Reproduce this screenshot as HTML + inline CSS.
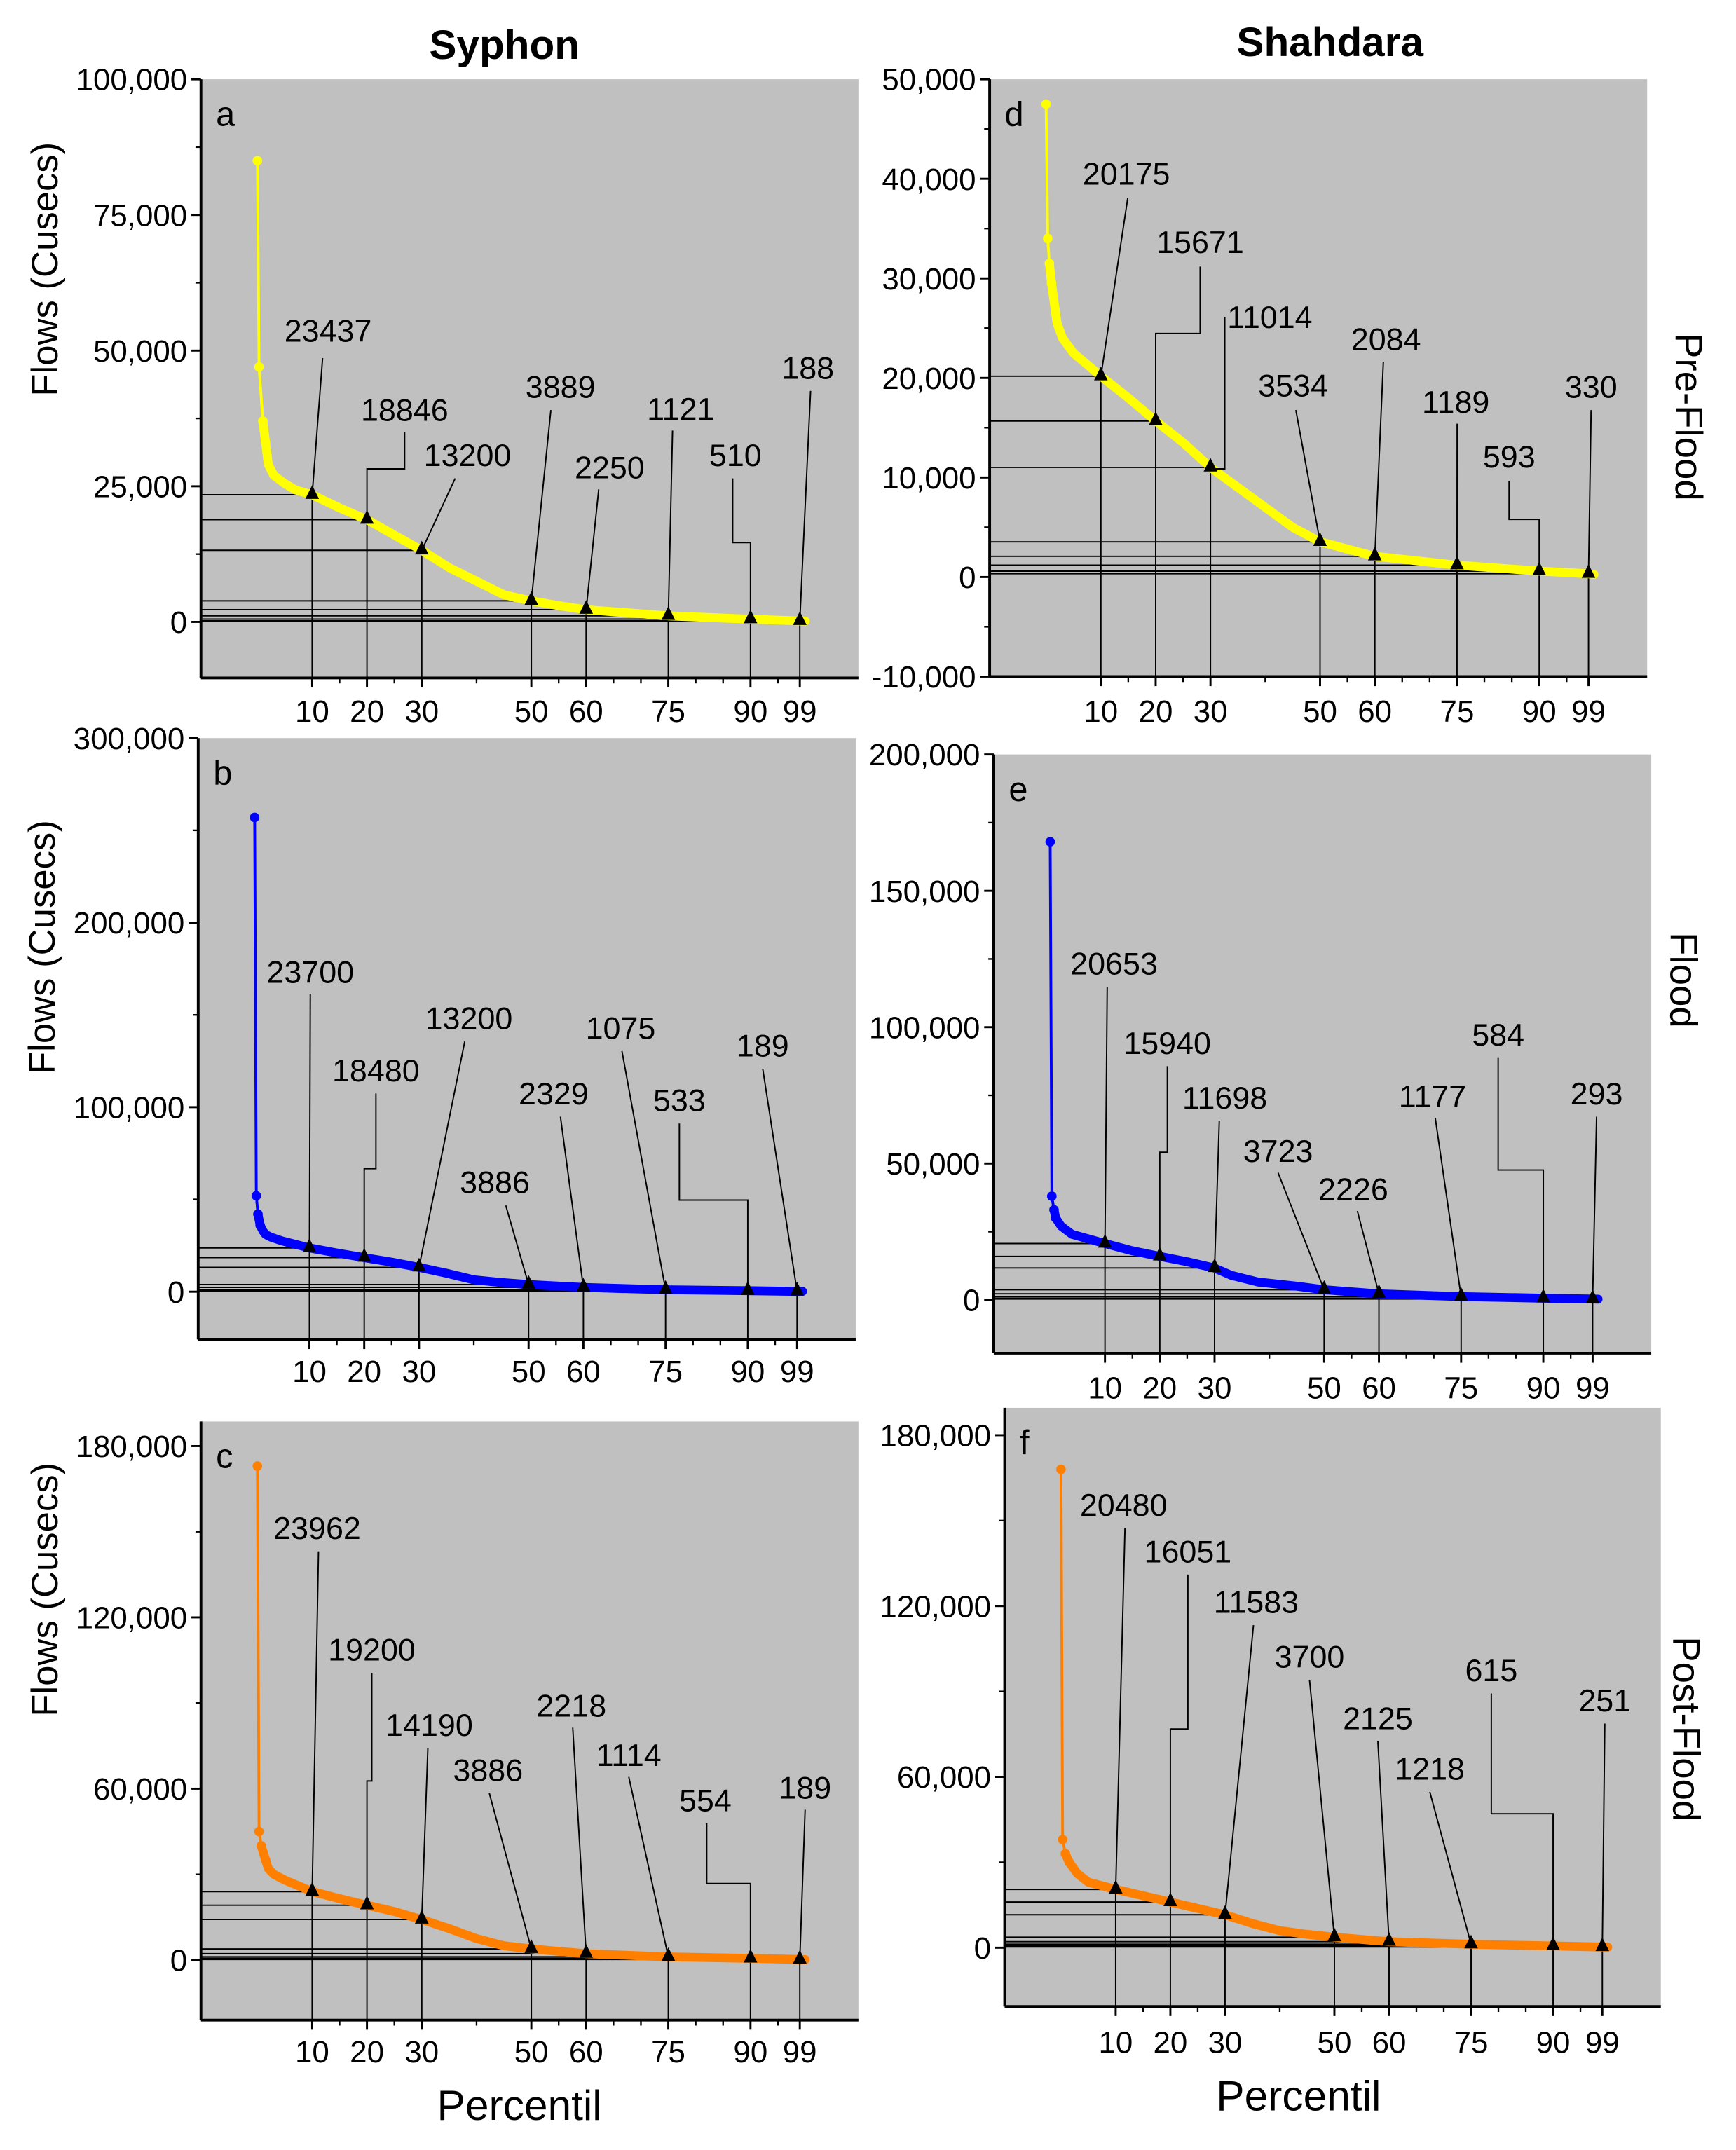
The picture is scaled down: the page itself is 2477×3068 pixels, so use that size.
<!DOCTYPE html>
<html><head><meta charset="utf-8"><style>
html,body{margin:0;padding:0;background:#fff;}
svg{display:block;font-family:"Liberation Sans",Arial,sans-serif;}
</style></head><body>
<svg id="fig" width="2477" height="3068" viewBox="0 0 1270 1573" preserveAspectRatio="none" xmlns="http://www.w3.org/2000/svg">
<rect x="0" y="0" width="1270" height="1573" fill="#fff"/>
<text x="369" y="43" font-size="30" font-weight="bold" text-anchor="middle">Syphon</text>
<text x="973" y="41" font-size="30" font-weight="bold" text-anchor="middle">Shahdara</text>
<text transform="translate(1226,305) rotate(90)" font-size="28" text-anchor="middle">Pre-Flood</text>
<text transform="translate(1222,717) rotate(90)" font-size="28" text-anchor="middle">Flood</text>
<text transform="translate(1224,1265) rotate(90)" font-size="28" text-anchor="middle">Post-Flood</text>
<text transform="translate(42,197) rotate(-90)" font-size="27" text-anchor="middle">Flows (Cusecs)</text>
<text transform="translate(40,693) rotate(-90)" font-size="27" text-anchor="middle">Flows (Cusecs)</text>
<text transform="translate(42,1163) rotate(-90)" font-size="27" text-anchor="middle">Flows (Cusecs)</text>
<text x="380" y="1551" font-size="31" text-anchor="middle">Percentil</text>
<text x="950" y="1544" font-size="31" text-anchor="middle">Percentil</text>
</svg>
<script>
// ---- data ----
const markerPct = [10, 20, 30, 50, 60, 75, 90, 99];
const xTickLabels = ["10", "20", "30", "50", "60", "75", "90", "99"];
const xMinorTicks = [15, 25, 40, 55, 65, 70, 80, 85, 95];

const curvePctA = [0, 0.3, 1, 1.5, 2, 3, 5, 7, 10, 15, 20, 25, 30, 35, 40, 45, 50, 55, 60, 75, 90, 99, 100];
const curveValA = [85000, 47000, 37000, 33000, 29000, 27000, 25500, 24300, 23437, 21000, 18846, 16000, 13200, 10000, 7500, 5000, 3889, 3000, 2250, 1121, 510, 188, 150];
const markValA = [23437, 18846, 13200, 3889, 2250, 1121, 510, 188];

const curvePctB = [0, 0.3, 0.6, 1, 1.5, 2, 3, 5, 10, 15, 20, 25, 30, 35, 40, 45, 50, 60, 75, 90, 99, 100];
const curveValB = [257000, 52000, 42000, 36000, 33000, 31000, 29500, 27500, 23700, 21000, 18480, 16000, 13200, 10000, 6500, 5000, 3886, 2329, 1075, 533, 189, 150];
const markValB = [23700, 18480, 13200, 3886, 2329, 1075, 533, 189];

const curvePctC = [0, 0.3, 0.7, 1.5, 2, 3, 5, 10, 15, 20, 25, 30, 35, 40, 45, 50, 60, 75, 90, 99, 100];
const curveValC = [173000, 45000, 40000, 35000, 32000, 30000, 28000, 23962, 21500, 19200, 17000, 14190, 11000, 7500, 5000, 3886, 2218, 1114, 554, 189, 150];
const markValC = [23962, 19200, 14190, 3886, 2218, 1114, 554, 189];

const curvePctD = [0, 0.3, 0.6, 1, 1.5, 2, 3, 5, 10, 15, 20, 25, 30, 35, 40, 45, 50, 60, 75, 90, 99, 100];
const curveValD = [47500, 34000, 31500, 29500, 27500, 25500, 24000, 22500, 20175, 18000, 15671, 13500, 11014, 9000, 7000, 5000, 3534, 2084, 1189, 593, 330, 250];
const markValD = [20175, 15671, 11014, 3534, 2084, 1189, 593, 330];

const curvePctE = [0, 0.3, 0.7, 1, 2, 4, 10, 15, 20, 25, 30, 33, 38, 45, 50, 60, 75, 90, 99, 100];
const curveValE = [168000, 38000, 33000, 30000, 27000, 24000, 20653, 18000, 15940, 14000, 11698, 9000, 6500, 5000, 3723, 2226, 1177, 584, 293, 250];
const markValE = [20653, 15940, 11698, 3723, 2226, 1177, 584, 293];

const curvePctF = [0, 0.3, 0.8, 1.5, 3, 5, 10, 20, 30, 35, 40, 45, 50, 60, 75, 90, 99, 100];
const curveValF = [168000, 38000, 33000, 30000, 26000, 23000, 20480, 16051, 11583, 8500, 6000, 4700, 3700, 2125, 1218, 615, 251, 200];
const markValF = [20480, 16051, 11583, 3700, 2125, 1218, 615, 251];

const yTicksA = [0, 25000, 50000, 75000, 100000];
const yTickLabelsA = ["0", "25,000", "50,000", "75,000", "100,000"];
const yTicksB = [0, 100000, 200000, 300000];
const yTickLabelsB = ["0", "100,000", "200,000", "300,000"];
const yTicksC = [0, 60000, 120000, 180000];
const yTickLabelsC = ["0", "60,000", "120,000", "180,000"];
const yTicksD = [-10000, 0, 10000, 20000, 30000, 40000, 50000];
const yTickLabelsD = ["-10,000", "0", "10,000", "20,000", "30,000", "40,000", "50,000"];
const yTicksE = [0, 50000, 100000, 150000, 200000];
const yTickLabelsE = ["0", "50,000", "100,000", "150,000", "200,000"];
const yTicksF = [0, 60000, 120000, 180000];
const yTickLabelsF = ["0", "60,000", "120,000", "180,000"];

// ---- layout (pixel positions for annotation labels; not data) ----
const layouts = [
 {id:'a', x0:147,x1:628,y0:58,y1:496,ymin:-10325,ymax:100000,color:'#ffff00',xlabY:528,
  P:curvePctA,V:curveValA,M:markValA,T:yTicksA,TL:yTickLabelsA,
  lab:[[240,250,236,262,null],[296,308,296,316,343],[342,341,333,350,null],[410,291,403,300,null],[446,350,438,358,null],[498,307,492,315,null],[538,341,536,350,397],[591,277,593,286,null]]},
 {id:'b', x0:145,x1:626,y0:540,y1:980,ymin:-25900,ymax:300000,color:'#0000ff',xlabY:1011,
  P:curvePctB,V:curveValB,M:markValB,T:yTicksB,TL:yTickLabelsB,
  lab:[[227,719,227,727,null],[275,791,275,800,855],[343,753,340,762,null],[362,873,370,882,null],[405,808,410,817,null],[454,760,455,769,null],[497,813,497,822,878],[558,773,558,782,null]]},
 {id:'c', x0:147,x1:628,y0:1040,y1:1478,ymin:-21060,ymax:188600,color:'#ff8000',xlabY:1509,
  P:curvePctC,V:curveValC,M:markValC,T:yTicksC,TL:yTickLabelsC,
  lab:[[232,1126,233,1135,null],[272,1215,272,1224,1303],[314,1270,313,1279,null],[357,1303,358,1312,null],[418,1256,419,1264,null],[460,1292,460,1300,null],[516,1325,517,1334,1378],[589,1316,589,1324,null]]},
 {id:'d', x0:724,x1:1205,y0:58,y1:495,ymin:-10000,ymax:50000,color:'#ffff00',xlabY:528,
  P:curvePctD,V:curveValD,M:markValD,T:yTicksD,TL:yTickLabelsD,
  lab:[[824,135,825,145,null],[878,185,878,195,244],[929,240,896,232,343],[946,290,948,300,null],[1014,256,1012,265,null],[1065,302,1066,310,null],[1104,342,1104,352,380],[1164,291,1164,300,null]]},
 {id:'e', x0:727,x1:1208,y0:552,y1:990,ymin:-19550,ymax:200000,color:'#0000ff',xlabY:1023,
  P:curvePctE,V:curveValE,M:markValE,T:yTicksE,TL:yTickLabelsE,
  lab:[[815,713,810,722,null],[854,771,854,780,843],[896,811,892,820,null],[935,850,935,858,null],[990,878,993,886,null],[1048,810,1050,818,null],[1096,765,1096,774,856],[1168,808,1168,817,null]]},
 {id:'f', x0:735,x1:1215,y0:1030,y1:1468,ymin:-20640,ymax:189600,color:'#ff8000',xlabY:1502,
  P:curvePctF,V:curveValF,M:markValF,T:yTicksF,TL:yTickLabelsF,
  lab:[[822,1109,823,1118,null],[869,1143,869,1152,1265],[919,1180,917,1189,null],[958,1220,958,1229,null],[1008,1265,1008,1274,null],[1046,1302,1046,1311,null],[1091,1230,1091,1239,1327],[1174,1252,1174,1261,null]]}
];

const NS = 'http://www.w3.org/2000/svg';
const svg = document.getElementById('fig');
function mk(tag, attrs, parent){
  const e = document.createElementNS(NS, tag);
  for (const k in attrs) e.setAttribute(k, attrs[k]);
  (parent||svg).appendChild(e);
  return e;
}

layouts.forEach(L => {
  const g = mk('g', {});
  
  
  const px = p => L.x0 + (p + 10.3) / 120 * (L.x1 - L.x0);
  const py = v => L.y1 - (v - L.ymin) / (L.ymax - L.ymin) * (L.y1 - L.y0);

  const bg = mk('rect', {x:L.x0, y:L.y0, width:L.x1-L.x0, height:L.y1-L.y0, fill:'#c0c0c0'}, g);
  
  

  const pl = mk('text', {x:L.x0+11, y:L.y0+34, 'font-size':25}, g);
  pl.textContent = L.id;
  
  

  // y ticks
  L.T.forEach((t, i) => {
    const y = py(t);
    mk('line', {x1:L.x0-7, x2:L.x0, y1:y, y2:y, stroke:'#000', 'stroke-width':1.5}, g);
    const tl = mk('text', {x:L.x0-10, y:y+8, 'font-size':22.5, 'text-anchor':'end'}, g);
    tl.textContent = L.TL[i];
    
    
    if (i < L.T.length - 1) {
      const ym = py((t + L.T[i+1]) / 2);
      mk('line', {x1:L.x0-4, x2:L.x0, y1:ym, y2:ym, stroke:'#000', 'stroke-width':1.2}, g);
    }
  });
  // x ticks
  markerPct.forEach((p, i) => {
    const x = px(p);
    mk('line', {x1:x, x2:x, y1:L.y1, y2:L.y1+7, stroke:'#000', 'stroke-width':1.5}, g);
    const tl = mk('text', {x:x, y:L.xlabY, 'font-size':22.5, 'text-anchor':'middle'}, g);
    tl.textContent = xTickLabels[i];
    
    
  });
  xMinorTicks.forEach(p => {
    const x = px(p);
    mk('line', {x1:x, x2:x, y1:L.y1, y2:L.y1+4, stroke:'#000', 'stroke-width':1.2}, g);
  });

  // reference lines
  L.M.forEach((v, i) => {
    const x = px(markerPct[i]), y = py(v);
    mk('line', {x1:L.x0, x2:x, y1:y, y2:y, stroke:'#000', 'stroke-width':1}, g);
    mk('line', {x1:x, x2:x, y1:y, y2:L.y1, stroke:'#000', 'stroke-width':1}, g);
  });

  // curve
  const pts = L.P.map((p, i) => px(p).toFixed(1) + ',' + py(L.V[i]).toFixed(1));
  const thin = mk('polyline', {points:pts.slice(0,3).join(' '), fill:'none', stroke:L.color, 'stroke-width':2}, g);
  
  
  const thick = mk('polyline', {points:pts.slice(2).join(' '), fill:'none', stroke:L.color, 'stroke-width':6.5, 'stroke-linejoin':'round', 'stroke-linecap':'round'}, g);
  
  
  L.P.slice(0, 4).forEach((p, i) => {
    const c = mk('circle', {cx:px(p), cy:py(L.V[i]), r:3.5, fill:L.color}, g);
    
    
  });

  // markers, leaders, labels
  L.M.forEach((v, i) => {
    const x = px(markerPct[i]), y = py(v);
    const a = L.lab[i];
    let d;
    if (a[4] === null) d = `M${a[2]},${a[3]} L${x},${y}`;
    else d = `M${a[2]},${a[3]} L${a[2]},${a[4]} L${x},${a[4]} L${x},${y}`;
    const ld = mk('path', {d:d, fill:'none', stroke:'#000', 'stroke-width':1}, g);
    
    
    const tri = mk('polygon', {points:`${x},${y-7} ${x-5},${y+3} ${x+5},${y+3}`, fill:'#000'}, g);
    
    
    const t = mk('text', {x:a[0], y:a[1], 'font-size':23, 'text-anchor':'middle'}, g);
    t.textContent = String(v);
    
    
  });

  // axes
  mk('line', {x1:L.x0, x2:L.x0, y1:L.y0, y2:L.y1, stroke:'#000', 'stroke-width':2}, g);
  mk('line', {x1:L.x0, x2:L.x1, y1:L.y1, y2:L.y1, stroke:'#000', 'stroke-width':2}, g);
});
</script>
</body></html>
